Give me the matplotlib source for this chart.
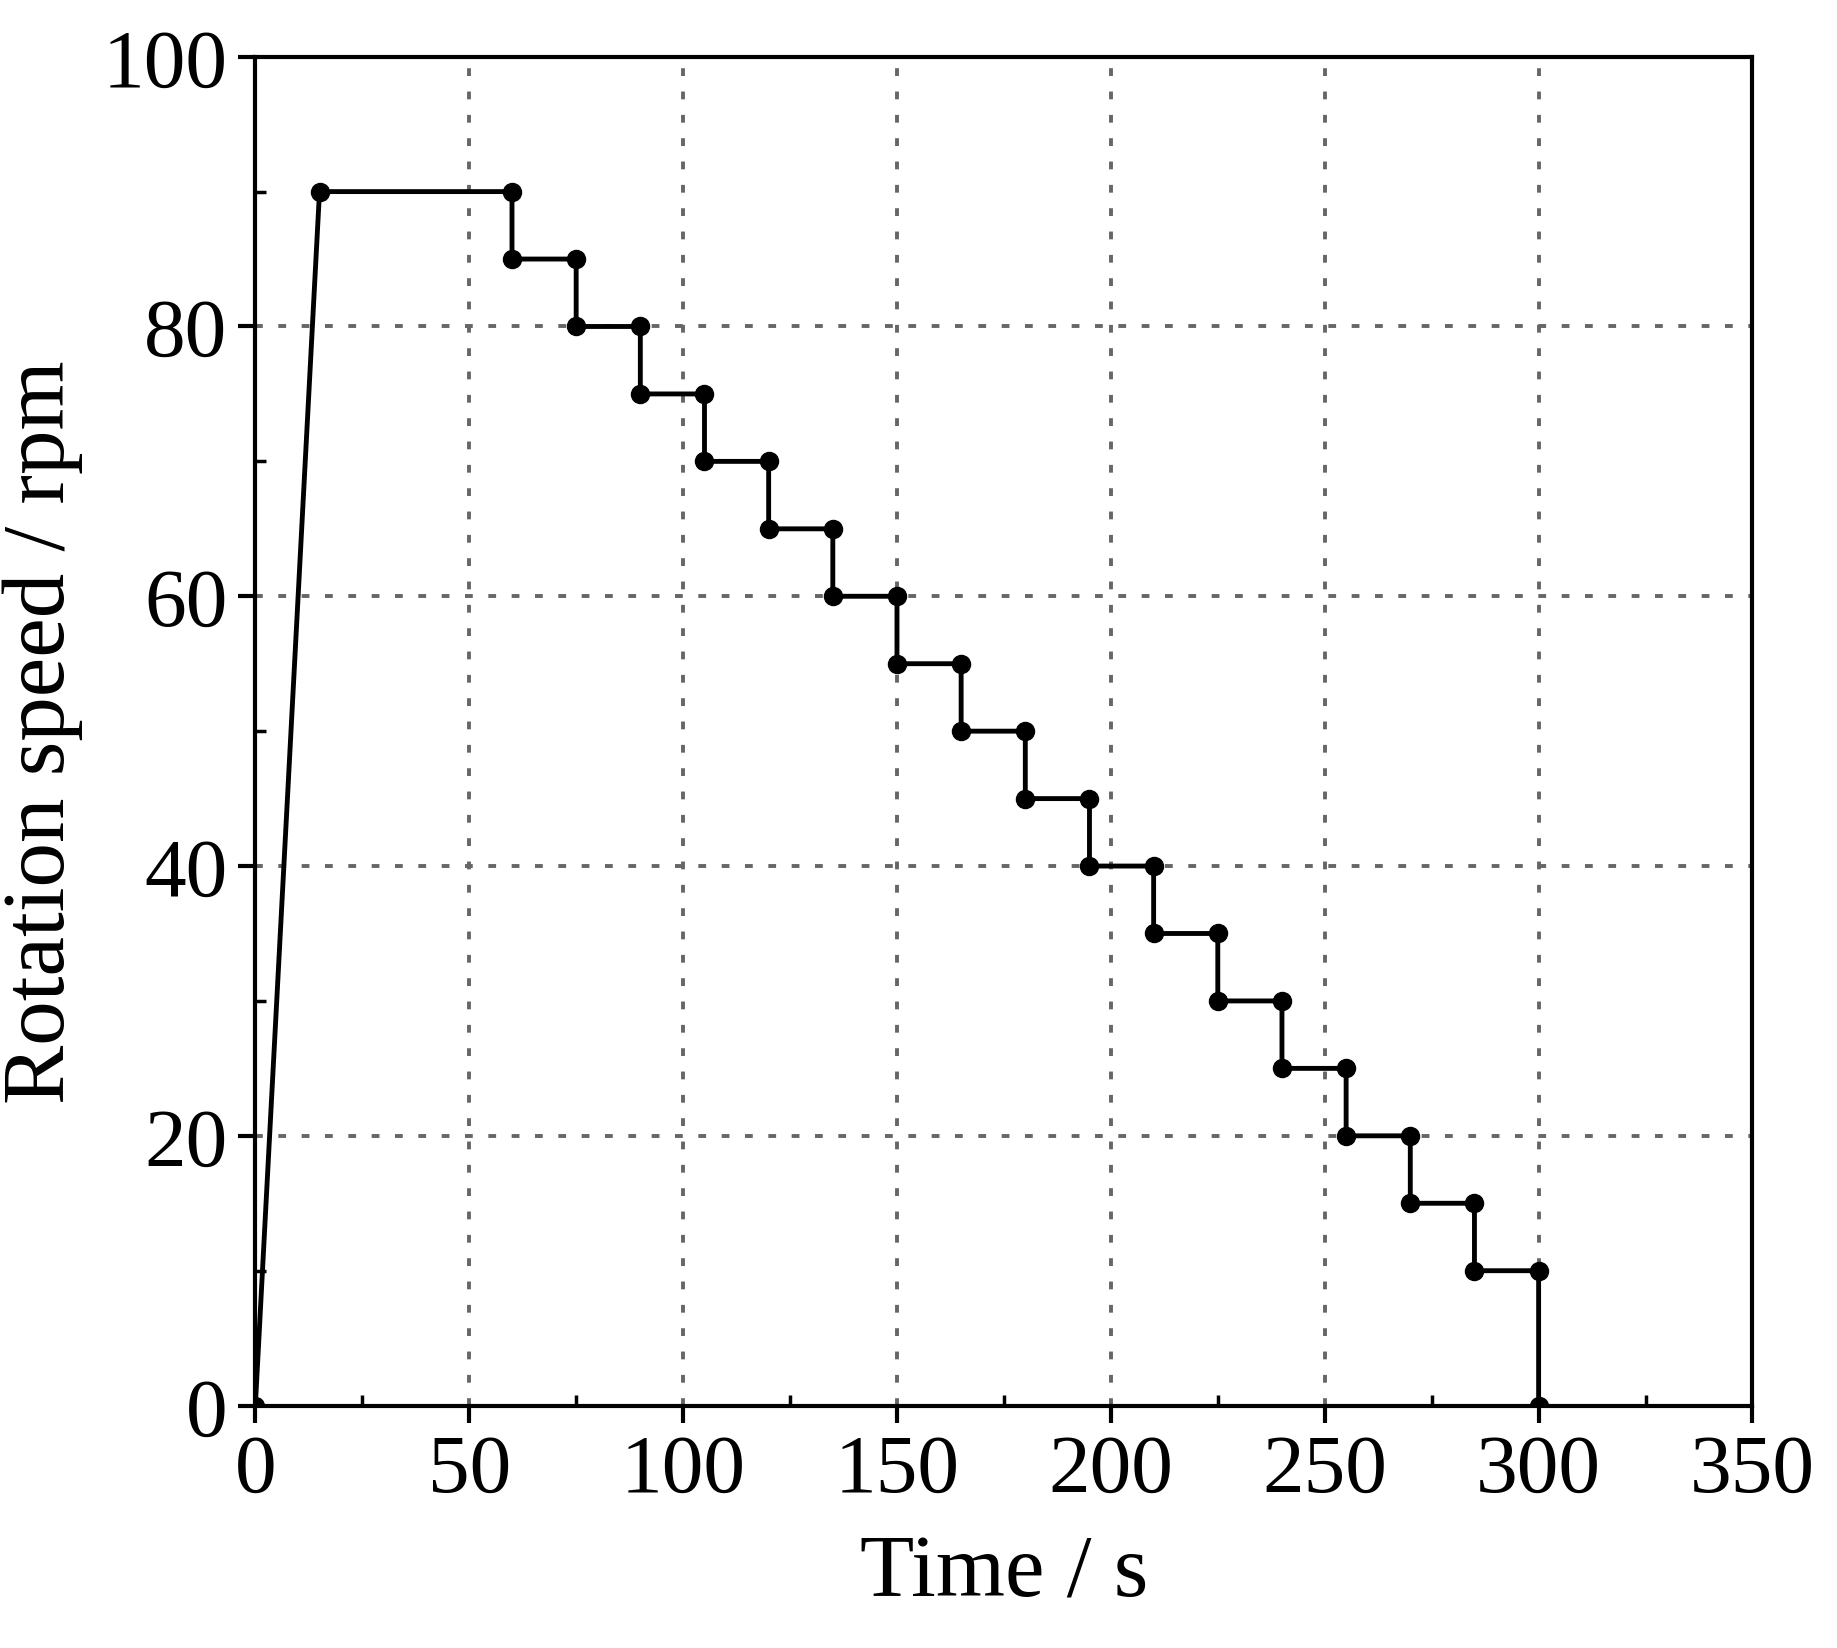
import matplotlib

matplotlib.use("Agg")
import matplotlib.pyplot as plt
from matplotlib.ticker import MultipleLocator

time_s = [0, 15, 60, 60, 75, 75, 90, 90, 105, 105, 120, 120, 135, 135, 150, 150,
          165, 165, 180, 180, 195, 195, 210, 210, 225, 225, 240, 240, 255, 255,
          270, 270, 285, 285, 300, 300]
speed_rpm = [0, 90, 90, 85, 85, 80, 80, 75, 75, 70, 70, 65, 65, 60, 60, 55,
             55, 50, 50, 45, 45, 40, 40, 35, 35, 30, 30, 25, 25, 20,
             20, 15, 15, 10, 10, 0]

plt.rcParams["font.family"] = ["Liberation Serif", "DejaVu Serif"]

fig = plt.figure(figsize=(18.37, 16.49), dpi=100)
ax = fig.add_axes([0.139, 0.147, 0.815, 0.818])

ax.plot(time_s, speed_rpm, color="black", lw=3.5, marker="o", ms=13)

ax.set_xlim(0, 350)
ax.set_ylim(0, 100)
ax.xaxis.set_major_locator(MultipleLocator(50))
ax.xaxis.set_minor_locator(MultipleLocator(25))
ax.yaxis.set_major_locator(MultipleLocator(20))
ax.yaxis.set_minor_locator(MultipleLocator(10))
ax.grid(True, which="major", color="#666666", ls=(0, (2, 4)), lw=2.8)
ax.tick_params(which="major", direction="out", length=12, width=3, labelsize=60, pad=8)
ax.tick_params(which="minor", direction="in", length=8, width=2.5)
for s in ax.spines.values():
    s.set_linewidth(3)

ax.set_xlabel("Time / s", fontsize=64, labelpad=18)
ax.set_ylabel("Rotation speed / rpm", fontsize=64, labelpad=14)

fig.savefig("out.png", dpi=100)
